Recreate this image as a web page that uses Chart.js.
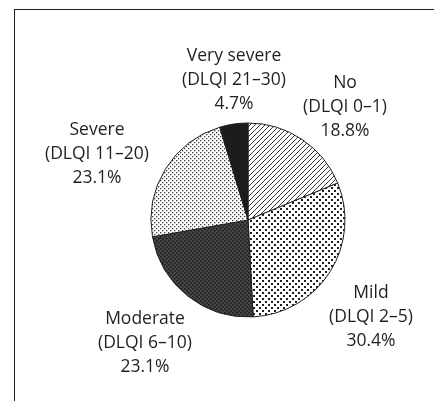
<!DOCTYPE html>
<html>
<head>
<meta charset="utf-8">
<script src="https://cdn.jsdelivr.net/npm/chart.js@4"></script>
<style>
  html, body { margin: 0; padding: 0; background: #fff; }
  #wrap { position: relative; width: 434px; height: 401px; }
  #frame { position: absolute; left: 14px; top: 9px; right: 0; bottom: 0;
           border-left: 1.5px solid #231f20; border-top: 1.5px solid #231f20; }
  canvas { position: absolute; left: 0; top: 0; }
</style>
</head>
<body>
<div id="wrap">
  <div id="frame"></div>
  <canvas id="chart" width="434" height="401"></canvas>
</div>
<script>
// data (clockwise from 12 o'clock)
const categories = ['No', 'Mild', 'Moderate', 'Severe', 'Very severe'];
const ranges = ['(DLQI 0–1)', '(DLQI 2–5)', '(DLQI 6–10)', '(DLQI 11–20)', '(DLQI 21–30)'];
const percents = [18.8, 30.4, 23.1, 23.1, 4.7];

// where each label block is centred (text layout only)
const labelPos = [[345, 107], [371, 317], [145, 343], [97, 154], [234, 80]];

// little tiles for the greyscale fills
function tile(size, draw) {
  const c = document.createElement('canvas');
  c.width = size; c.height = size;
  const g = c.getContext('2d');
  draw(g, size);
  return g.createPattern(c, 'repeat');
}

const ctx = document.getElementById('chart').getContext('2d');

const hatch = tile(5, (g, s) => {
  g.fillStyle = '#fff'; g.fillRect(0, 0, s, s);
  g.strokeStyle = '#231f20'; g.lineWidth = 0.9;
  g.beginPath();
  g.moveTo(-1, s + 1); g.lineTo(s + 1, -1);
  g.moveTo(-1, 1); g.lineTo(1, -1);
  g.moveTo(s - 1, s + 1); g.lineTo(s + 1, s - 1);
  g.stroke();
});
const diamonds = tile(6, (g, s) => {
  g.fillStyle = '#fff'; g.fillRect(0, 0, s, s);
  g.fillStyle = '#231f20';
  g.fillRect(1, 1, 2, 2);
  g.fillRect(4, 4, 2, 2);
});
const darkDots = tile(4, (g, s) => {
  g.fillStyle = '#454545'; g.fillRect(0, 0, s, s);
  g.fillStyle = '#1a1a1a';
  g.fillRect(0, 0, 1.5, 1.5);
  g.fillRect(2, 2, 1.5, 1.5);
});
const fineDots = tile(4, (g, s) => {
  g.fillStyle = '#fff'; g.fillRect(0, 0, s, s);
  g.fillStyle = '#3a3a3a';
  g.fillRect(0, 0, 1.3, 1.3);
  g.fillRect(2, 2, 1.3, 1.3);
});
const fills = [hatch, diamonds, darkDots, fineDots, '#1e1b1c'];

const labelPlugin = {
  id: 'pieLabels',
  afterDraw(chart) {
    const c = chart.ctx;
    c.save();
    c.fillStyle = '#231f20';
    c.font = '17.5px "Open Sans"';
    c.textAlign = 'center';
    c.textBaseline = 'middle';
    categories.forEach((name, i) => {
      const [x, y] = labelPos[i];
      c.fillText(name, x, y - 24);
      c.fillText(ranges[i], x, y);
      c.fillText(percents[i].toFixed(1) + '%', x, y + 24);
    });
    c.restore();
  }
};

new Chart(ctx, {
  type: 'pie',
  data: {
    labels: categories,
    datasets: [{
      data: percents,
      backgroundColor: fills,
      borderColor: '#231f20',
      borderWidth: 1
    }]
  },
  options: {
    responsive: false,
    animation: false,
    layout: { padding: { left: 150.5, right: 88.5, top: 122.5, bottom: 83.5 } },
    plugins: {
      legend: { display: false },
      tooltip: { enabled: false }
    }
  },
  plugins: [labelPlugin]
});
</script>
</body>
</html>
